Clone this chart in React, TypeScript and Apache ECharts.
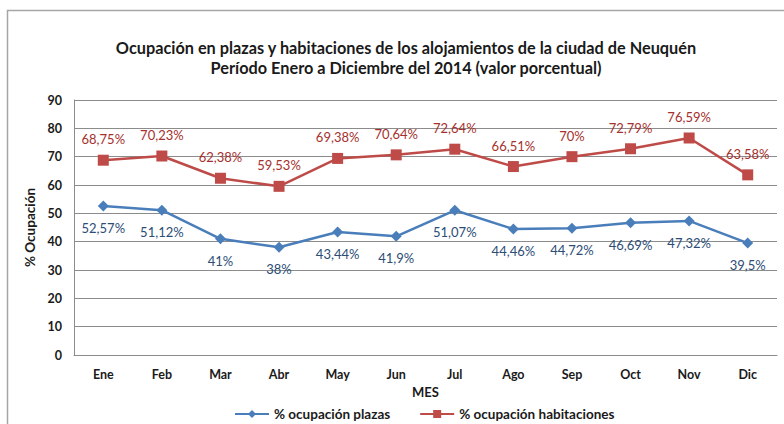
import React, { useEffect, useRef } from "react";
import * as echarts from "echarts";

const months = ["Ene", "Feb", "Mar", "Abr", "May", "Jun", "Jul", "Ago", "Sep", "Oct", "Nov", "Dic"];
const plazas = [52.57, 51.12, 41, 38, 43.44, 41.9, 51.07, 44.46, 44.72, 46.69, 47.32, 39.5];
const habitaciones = [68.75, 70.23, 62.38, 59.53, 69.38, 70.64, 72.64, 66.51, 70, 72.79, 76.59, 63.58];
const seriesNames = ["% ocupación plazas", "% ocupación habitaciones"];

const FONT = "Lato, 'Liberation Sans', sans-serif";
const fmt = (v: number) => String(v).replace(".", ",") + "%";

export default function App() {
  const ref = useRef<HTMLDivElement>(null);
  useEffect(() => {
    if (!ref.current) return;
    const chart = echarts.init(ref.current, null, { renderer: "svg" });
    chart.setOption({
      animation: false,
      backgroundColor: "#ffffff",
      textStyle: { fontFamily: FONT },
      title: {
        text: "Ocupación en plazas y habitaciones de los alojamientos de la ciudad de Neuquén\nPeríodo Enero a Diciembre del 2014 (valor porcentual)",
        left: 401,
        textAlign: "center",
        top: 32,
        textStyle: { fontFamily: FONT, fontSize: 16.3, fontWeight: "bold", color: "#1a1a1a", lineHeight: 20 },
      },
      graphic: [
        {
          type: "rect",
          shape: { x: 7.5, y: 10.5, width: 820, height: 460 },
          style: { fill: "none", stroke: "#a6a6a6", lineWidth: 1.5 },
          silent: true,
        },
      ],
      legend: {
        top: 402,
        left: 229,
        itemGap: 29,
        itemWidth: 34,
        itemHeight: 10,
        textStyle: { fontFamily: FONT, fontSize: 13.5, fontWeight: "bold", color: "#1a1a1a" },
        data: seriesNames,
      },
      grid: { left: 74, right: 7, top: 100, bottom: 69 },
      xAxis: {
        type: "category",
        data: months,
        name: "MES",
        nameLocation: "middle",
        nameGap: 25,
        nameTextStyle: { fontFamily: FONT, fontSize: 13, fontWeight: "bold", color: "#1a1a1a" },
        axisLine: { lineStyle: { color: "#8c8c8c", width: 1 } },
        axisTick: { show: false },
        axisLabel: { fontFamily: FONT, fontSize: 12.5, fontWeight: "bold", color: "#1a1a1a", margin: 13 },
      },
      yAxis: {
        type: "value",
        min: 0,
        max: 90,
        interval: 10,
        name: "% Ocupación",
        nameLocation: "middle",
        nameGap: 33,
        nameTextStyle: { fontFamily: FONT, fontSize: 13.5, fontWeight: "bold", color: "#1a1a1a" },
        axisLine: { show: true, lineStyle: { color: "#8c8c8c", width: 1 } },
        axisTick: { show: false },
        axisLabel: { fontFamily: FONT, fontSize: 12.5, fontWeight: "bold", color: "#1a1a1a", margin: 12 },
        splitLine: { lineStyle: { color: "#8c8c8c", width: 1 } },
      },
      series: [
        {
          name: seriesNames[0],
          type: "line",
          data: plazas,
          symbol: "diamond",
          symbolSize: 11,
          itemStyle: { color: "#4A7EBB" },
          lineStyle: { color: "#4A7EBB", width: 2.5 },
          label: {
            show: true,
            position: "bottom",
            distance: 10,
            formatter: (p: any) => fmt(p.value),
            fontFamily: FONT,
            fontSize: 13,
            color: "#2C4D75",
          },
        },
        {
          name: seriesNames[1],
          type: "line",
          data: habitaciones,
          symbol: "rect",
          symbolSize: 11,
          itemStyle: { color: "#BE4B48" },
          lineStyle: { color: "#BE4B48", width: 2.5 },
          label: {
            show: true,
            position: "top",
            distance: 9,
            formatter: (p: any) => fmt(p.value),
            fontFamily: FONT,
            fontSize: 13,
            color: "#A5302D",
          },
        },
      ],
    });
    return () => chart.dispose();
  }, []);
  return <div ref={ref} style={{ width: 784, height: 424, position: "absolute", left: 0, top: 0 }} />;
}
